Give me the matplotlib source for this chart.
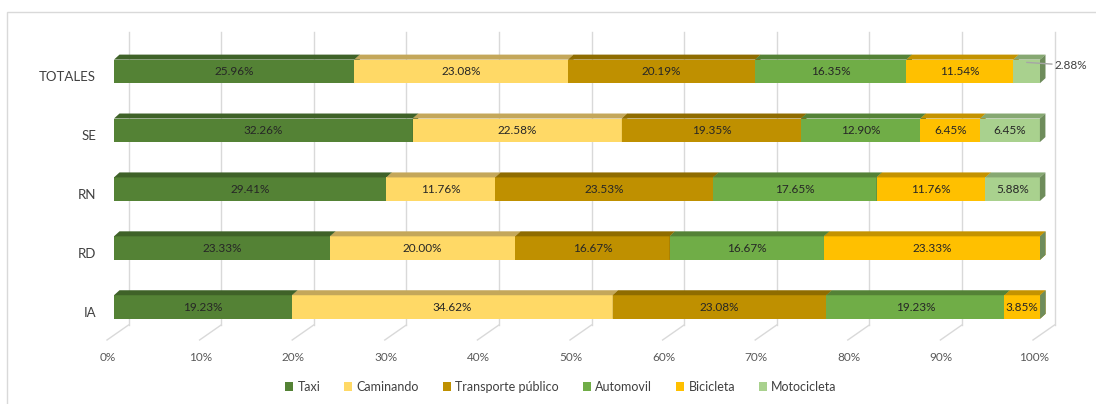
import matplotlib.pyplot as plt
import matplotlib.transforms as mtransforms
from matplotlib.patches import Polygon, Patch, Rectangle

plt.rcParams['font.family'] = ['Lato', 'DejaVu Sans']

categorias = ['IA', 'RD', 'RN', 'SE', 'TOTALES']
series = ['Taxi', 'Caminando', 'Transporte público', 'Automovil', 'Bicicleta', 'Motocicleta']
taxi = [19.23, 23.33, 29.41, 32.26, 25.96]
caminando = [34.62, 20.00, 11.76, 22.58, 23.08]
transporte = [23.08, 16.67, 23.53, 19.35, 20.19]
automovil = [19.23, 16.67, 17.65, 12.90, 16.35]
bicicleta = [3.85, 23.33, 11.76, 6.45, 11.54]
motocicleta = [0, 0, 5.88, 6.45, 2.88]
valores = [taxi, caminando, transporte, automovil, bicicleta, motocicleta]
ticks = list(range(0, 101, 10))

frente = ['#548235', '#FFD966', '#BF9000', '#70AD47', '#FFC000', '#A9D18E']
arriba = ['#3F6228', '#C4A75A', '#8F6C00', '#548236', '#C49300', '#86A872']
lado = ['#3F6228', '#BFA24F', '#8F6C00', '#4F7A33', '#BF9000', '#6E8C5B']

W, H = 1096, 404
fig = plt.figure(figsize=(W / 100, H / 100), dpi=100)
ax = fig.add_axes([114 / W, 69 / H, 926 / W, 293.3 / H])
ax.set_xlim(0, 100)
ax.set_ylim(-0.475, 4.504)
for s in ax.spines.values():
    s.set_visible(False)

# pixel -> data
px = 100 / 926
py = 1 / 58.9
alto = 0.4
bx, by = 5.5 * px, 5 * py       # profundidad de barras
wx, wy = 14.5 * px, 10 * py     # pared del fondo
fx, fy = -7 * px, -5 * py       # borde frontal del piso
y0, y1 = -0.475, 4.504

# pared del fondo y piso
for t in ticks:
    ax.plot([t + wx, t + wx], [y0 + wy, y1 + wy], color='#D9D9D9', lw=1, clip_on=False, zorder=0)
    ax.plot([t + wx, t + fx], [y0 + wy, y0 + fy], color='#D9D9D9', lw=1, clip_on=False, zorder=0)

for i, cat in enumerate(categorias):
    izq = 0
    for s, vals in enumerate(valores):
        v = vals[i]
        z = 2 + s
        ax.barh(i, v, left=izq, height=alto, color=frente[s], linewidth=0, zorder=z)
        top = i + alto / 2
        bot = i - alto / 2
        ax.add_patch(Polygon([(izq, top), (izq + bx, top + by), (izq + v + bx, top + by), (izq + v, top)],
                             closed=True, facecolor=arriba[s], edgecolor='none', zorder=z, clip_on=False))
        ax.add_patch(Polygon([(izq + v, bot), (izq + v, top), (izq + v + bx, top + by), (izq + v + bx, bot + by)],
                             closed=True, facecolor=lado[s], edgecolor='none', zorder=z, clip_on=False))
        if v > 0:
            etiqueta = '{:.2f}%'.format(v)
            if v < 3.5:
                ax.annotate(etiqueta, xy=(izq + v / 2, i + 9 * py), xytext=(izq + v + 1.6, i + 6 * py),
                            va='center', ha='left', fontsize=8.5, color='#404040', zorder=20,
                            arrowprops=dict(arrowstyle='-', color='#A6A6A6', lw=1, shrinkA=0, shrinkB=0))
            else:
                ax.text(izq + v / 2, i, etiqueta, ha='center', va='center', fontsize=8.5,
                        color='#262626', zorder=20)
        izq += v

# ejes
ax.set_xticks(ticks)
ax.set_xticklabels(['{}%'.format(t) for t in ticks], fontsize=8.5, color='#595959')
ax.tick_params(axis='x', length=0, pad=12.5)
ax.set_yticks(range(len(categorias)))
ax.set_yticklabels(categorias, fontsize=9.5, color='#404040')
ax.tick_params(axis='y', length=0, pad=13)
for lab in ax.get_xticklabels():
    lab.set_transform(lab.get_transform() + mtransforms.ScaledTranslation(-6 / 100, 0, fig.dpi_scale_trans))
for lab in ax.get_yticklabels():
    lab.set_transform(lab.get_transform() + mtransforms.ScaledTranslation(0, -5 / 100, fig.dpi_scale_trans))

# marco
fig.patches.append(Rectangle((7 / W, -0.2), 1.2, 1.2 - 12 / H, transform=fig.transFigure,
                             fill=False, edgecolor='#D9D9D9', lw=1))

handles = [Patch(facecolor=c, edgecolor='none') for c in frente]
fig.legend(handles, series, loc='center', bbox_to_anchor=(561 / W, 17 / H), ncol=6, frameon=False,
           fontsize=9, handlelength=0.65, handleheight=0.65, handletextpad=0.35, columnspacing=1.9,
           labelcolor='#404040')

fig.savefig('out.png', dpi=100)
